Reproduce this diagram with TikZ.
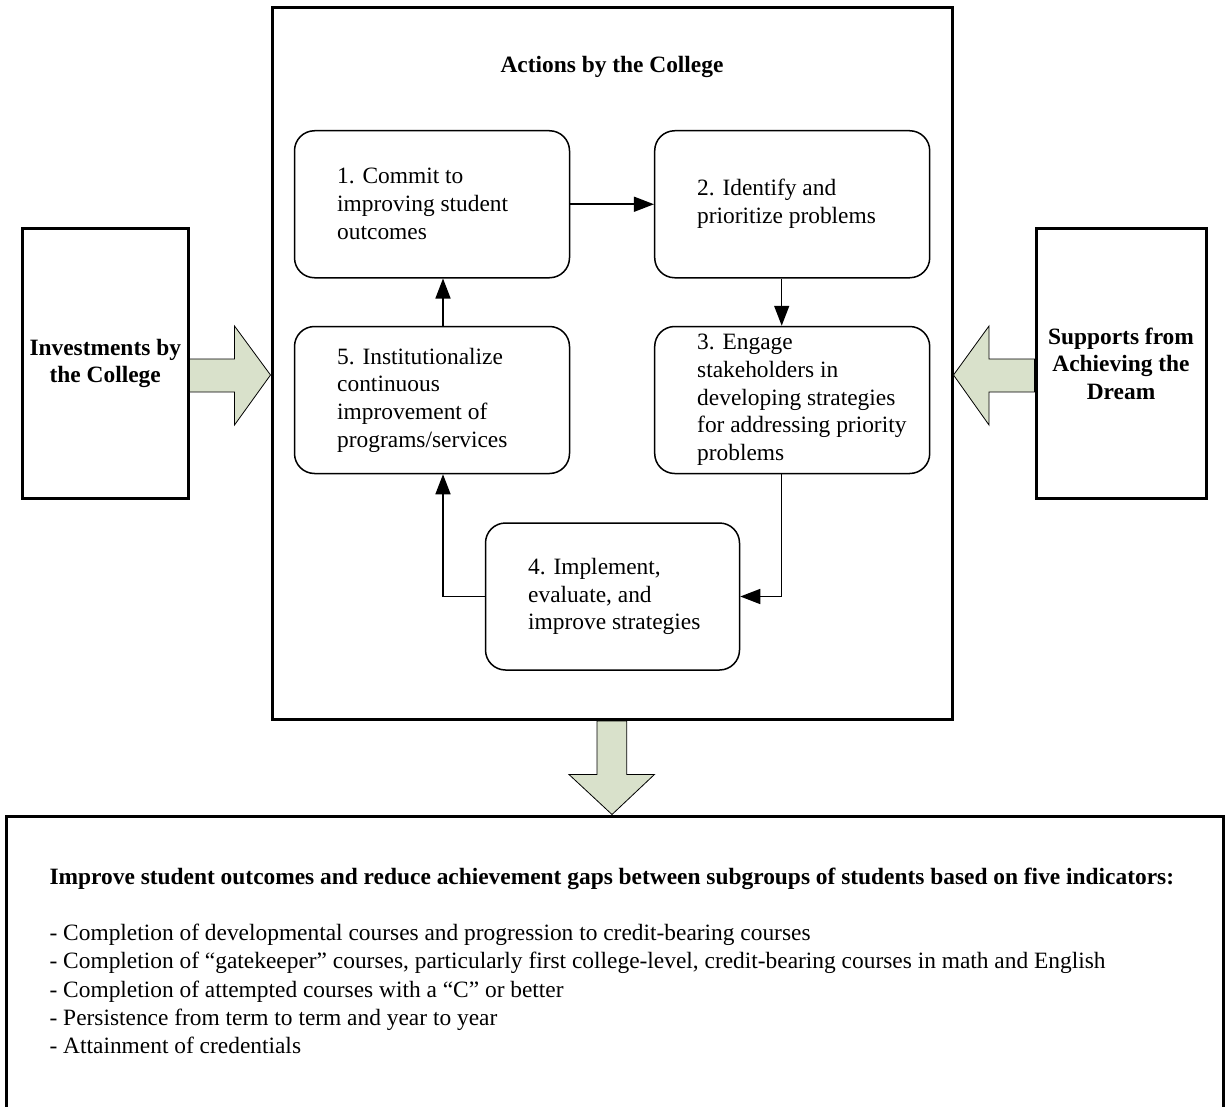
\documentclass[tikz,border=0pt]{standalone}
\usepackage{fontspec}
\setmainfont{Liberation Serif}
\usetikzlibrary{arrows.meta}
\definecolor{sage}{RGB}{217,225,203}

\begin{document}
\begin{tikzpicture}[x=1pt,y=-1pt,font=\fontsize{23.4}{27.7}\selectfont]
    \useasboundingbox (0,0) rectangle (1225,1107);
    \clip (0,0) rectangle (1225,1107);
    % outer frames
    \begin{scope}[every node/.style={draw,line width=3pt,inner sep=0pt,align=center,
        font=\fontsize{23.4}{27.7}\selectfont\bfseries}]
        \node[minimum width=680pt,minimum height=711.5pt] (act) at (612,363.75) {};
        \node[minimum width=165.5pt,minimum height=270pt] (inv) at (105.25,363.6) {Investments by\\the College};
        \node[minimum width=170pt,minimum height=270pt] (sup) at (1121,363.6) {Supports from\\Achieving the\\Dream};
        \node[minimum width=1217pt,minimum height=308pt] (out) at (614.5,970) {};
    \end{scope}
    \node[anchor=base,font=\fontsize{23.4}{27.7}\selectfont\bfseries] (title) at (612,73) {Actions by the College};
    % steps
    \begin{scope}[every node/.style={draw,line width=1.5pt,rounded corners=20pt,
        minimum width=275pt,minimum height=147pt}]
        \node (c1) at (432,204.25) {};
        \node (c2) at (792.2,204.25) {};
        \node (c3) at (792.2,400) {};
        \node (c5) at (432,400) {};
        \node[minimum width=254pt] (c4) at (612.5,596.5) {};
    \end{scope}
    \begin{scope}[every node/.style={anchor=west,align=left,inner sep=0pt}]
        \node (t1) at (337,204) {1. Commit to\\improving student\\outcomes};
        \node (t2) at (697,204) {2. Identify and\\prioritize problems};
        \node (t3) at (697,400) {3. Engage\\stakeholders in\\developing strategies\\for addressing priority\\problems};
        \node (t5) at (337,400) {5. Institutionalize\\continuous\\improvement of\\programs/services};
        \node (t4) at (528,596.5) {4. Implement,\\evaluate, and\\improve strategies};
    \end{scope}
    \begin{scope}[every path/.style={line width=1.5pt,-{Triangle[length=20pt,width=15pt]}}]
        \draw (c1) -- (c2);
        \draw ([xshift=-10.5pt]c2.south) -- ([xshift=-10.5pt]c3.north);
        \draw ([xshift=-10.5pt]c3.south) |- (c4.east);
        \draw (c4.west) -| ([xshift=11pt]c5.south);
        \draw ([xshift=11pt]c5.north) -- ([xshift=11pt]c1.south);
    \end{scope}
    % block arrows
    \begin{scope}[every path/.style={draw=black,fill=sage,line width=0.8pt}]
        \path (inv.east |- 0,359) -- (234.5,359) -- (234.5,326) -- (act.west |- 0,375)
            -- (234.5,425) -- (234.5,392) -- (inv.east |- 0,392) -- cycle;
        \path (sup.west |- 0,359) -- (989,359) -- (989,326) -- (act.east |- 0,375)
            -- (989,425) -- (989,392) -- (sup.west |- 0,392) -- cycle;
        \path (597,0 |- act.south) -- (597,774.5) -- (569,774.5) -- (act.south |- out.north)
            -- (654.4,774.5) -- (626.7,774.5) -- (626.7,0 |- act.south) -- cycle;
    \end{scope}
    % outcomes
    \node[anchor=base west,inner sep=0pt,font=\fontsize{23.4}{27.7}\selectfont\bfseries] (goal) at (49.4,884)
        {Improve student outcomes and reduce achievement gaps between subgroups of students based on five indicators:};
    \node[anchor=north west,align=left,inner sep=0pt,font=\fontsize{23.4}{28.2}\selectfont] (ind) at (49.4,924)
        {- Completion of developmental courses and progression to credit-bearing courses\\
         - Completion of “gatekeeper” courses, particularly first college-level, credit-bearing courses in math and English\\
         - Completion of attempted courses with a “C” or better\\
         - Persistence from term to term and year to year\\
         - Attainment of credentials};
\end{tikzpicture}
\end{document}
